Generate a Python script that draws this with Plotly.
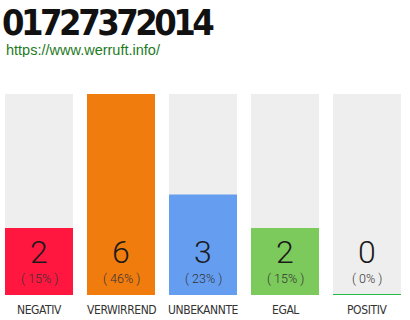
import plotly.graph_objects as go

# Rating categories and vote counts
categories = ["NEGATIV", "VERWIRREND", "UNBEKANNTE", "EGAL", "POSITIV"]
counts = [2, 6, 3, 2, 0]
percents = [15, 46, 23, 15, 0]
colors = ["#ff1740", "#f07c0e", "#659ef0", "#7cc95c", "#22bb44"]

title_text = "01727372014"
link_text = "https://www.werruft.info/"

COND = "DejaVu Sans Condensed, Roboto, sans-serif"
LIGHT = "Roboto, sans-serif"

W, H = 410, 320
pitch = 82.0          # px per category
bar_px = 68.0         # bar width in px
top_px, bottom_px = 94, 295
x0 = -39.0 / pitch
x1 = x0 + W / pitch
bw = bar_px / pitch
ymax = max(counts)

xs = list(range(len(categories)))

fig = go.Figure()

# light grey track behind each bar
fig.add_trace(go.Bar(x=xs, y=[ymax] * len(xs), width=bw,
                     marker=dict(color="#eeeeee", line=dict(width=0)),
                     hoverinfo="skip", showlegend=False))
# value bars
fig.add_trace(go.Bar(x=xs, y=counts, width=bw,
                     marker=dict(color=colors, line=dict(width=0)),
                     showlegend=False))

# thin baseline marker for empty categories
for i, c in enumerate(counts):
    if c == 0:
        fig.add_shape(type="line", xref="x", yref="y",
                      x0=i - bw / 2, x1=i + bw / 2, y0=0, y1=0,
                      line=dict(color=colors[i], width=2))

px_per_unit = (bottom_px - top_px) / ymax
plot_h = bottom_px - top_px


def y_at(px):
    return (bottom_px - px) / px_per_unit


def paper_y(px):
    return (bottom_px - px) / plot_h


for i, (c, p) in enumerate(zip(counts, percents)):
    fig.add_annotation(x=i, y=y_at(252), xref="x", yref="y", text=str(c),
                       showarrow=False, yanchor="middle",
                       font=dict(family=LIGHT, size=32, weight=300, color="#1a1a1a"))
    fig.add_annotation(x=i, y=y_at(278), xref="x", yref="y", text=f"( {p}% )",
                       showarrow=False, yanchor="middle",
                       font=dict(family=LIGHT, size=12.5, weight=300, color="#333333"))
    # category label under each bar
    fig.add_annotation(x=i, y=paper_y(310), xref="x", yref="paper",
                       text=f'<span style="letter-spacing:-0.4px">{categories[i]}</span>',
                       showarrow=False, yanchor="middle",
                       font=dict(family=COND, size=12, color="#333333"))

fig.add_annotation(x=0, y=paper_y(22), xref="paper", yref="paper",
                   text=f'<span style="letter-spacing:-3.5px"><b>{title_text}</b></span>',
                   showarrow=False, xanchor="left", yanchor="middle", height=34,
                   font=dict(family=COND, size=36, color="#111111"))
fig.add_annotation(x=4 / W, y=paper_y(49.5), xref="paper", yref="paper",
                   text=link_text, showarrow=False, height=15,
                   xanchor="left", yanchor="middle",
                   font=dict(family="Liberation Sans, Arial, sans-serif", size=14.5, color="#1e7a1e"))

fig.update_layout(
    width=W, height=H,
    margin=dict(l=0, r=0, t=top_px, b=H - bottom_px, pad=0),
    barmode="overlay",
    plot_bgcolor="white", paper_bgcolor="white",
    xaxis=dict(range=[x0, x1], showticklabels=False,
               showgrid=False, zeroline=False, showline=False, ticks="",
               fixedrange=True),
    yaxis=dict(range=[0, ymax], visible=False, fixedrange=True),
)

fig.write_html("out.html")
